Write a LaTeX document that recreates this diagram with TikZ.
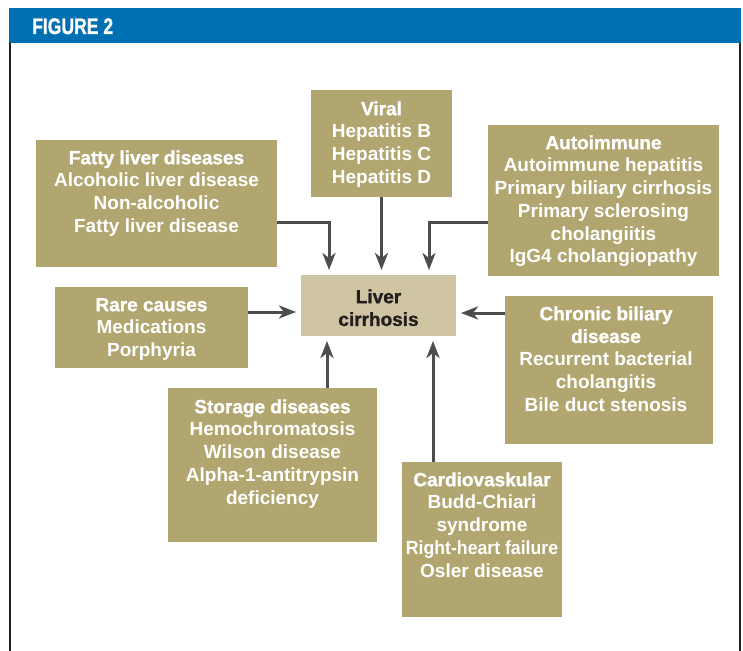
\documentclass[tikz,border=0pt]{standalone}
\usepackage{fontspec}
\usepackage{graphicx}
\usetikzlibrary{arrows.meta}
\newfontfamily\bodyf{Liberation Sans Bold}
\newfontfamily\heavyf[FakeBold=1.3]{Liberation Sans Bold}
\definecolor{boxc}{HTML}{B1A66F}
\definecolor{cirrc}{HTML}{CFC5A2}
\definecolor{arrc}{HTML}{4D4D4F}
\definecolor{headc}{HTML}{0070B3}
\definecolor{framec}{HTML}{231F20}
\tikzset{
  box/.style={fill=boxc, draw=none, inner sep=0pt, outer sep=0pt, anchor=north west},
  txt/.style={text=white, align=center, anchor=north, inner sep=0pt, font=\bodyf\fontsize{19}{22.7}\selectfont},
  arr/.style={draw=arrc, line width=3pt, shorten >=5pt, -{Stealth[length=17pt,width=13pt,inset=5pt]}},
  framel/.style={draw=framec, line width=2pt},
}
\newcommand{\ttl}[1]{\rule{0pt}{14pt}{\heavyf #1}}
\begin{document}
\begin{tikzpicture}[x=1pt,y=-1pt]
\useasboundingbox (0,0) rectangle (743,650);
\fill[white] (0,0) rectangle (743,650);
% frame
\node[fill=headc, inner sep=0pt, minimum width=732pt, minimum height=35pt, anchor=north west] (header) at (9,8) {};
\node[anchor=base west, inner sep=0pt, text=white, font=\heavyf\fontsize{22.5}{22.5}\selectfont] (figlabel) at (32,34) {\scalebox{0.78}[1]{FIGURE 2}};
\draw[framel] (header.south west) ++(1,0) -- ++(0,610);
\draw[framel] (header.south east) ++(-1,0) -- ++(0,610);
% boxes
\node[box, minimum width=241pt, minimum height=127pt] (fatty) at (36,140) {};
\node[box, minimum width=141pt, minimum height=107pt] (viral) at (311,90) {};
\node[box, minimum width=231pt, minimum height=151pt] (auto) at (488,125) {};
\node[box, minimum width=193pt, minimum height=81pt] (rare) at (55,287) {};
\node[box, fill=cirrc, minimum width=155pt, minimum height=61pt] (cirr) at (301,275) {};
\node[box, minimum width=208pt, minimum height=148pt] (chron) at (505,296) {};
\node[box, minimum width=209pt, minimum height=154pt] (stor) at (168,388) {};
\node[box, minimum width=160pt, minimum height=155pt] (card) at (402,462) {};
% texts
\node[txt] (fattyt) at ([yshift=-10pt]fatty.north) {\ttl{Fatty liver diseases}\\Alcoholic liver disease\\Non-alcoholic\\Fatty liver disease};
\node[txt] (viralt) at ([yshift=-11pt]viral.north) {\ttl{Viral}\\Hepatitis B\\Hepatitis C\\Hepatitis D};
\node[txt] (autot) at ([yshift=-10pt]auto.north) {\ttl{Autoimmune}\\Autoimmune hepatitis\\Primary biliary cirrhosis\\Primary sclerosing\\cholangiitis\\IgG4 cholangiopathy};
\node[txt] (raret) at ([yshift=-10pt]rare.north) {\ttl{Rare causes}\\Medications\\Porphyria};
\node[txt, text=framec] (cirrt) at ([yshift=-14pt]cirr.north) {\ttl{Liver}\\{\heavyf cirrhosis}};
\node[txt] (chront) at ([xshift=-3pt,yshift=-10pt]chron.north) {\ttl{Chronic biliary}\\{\heavyf disease}\\Recurrent bacterial\\cholangitis\\Bile duct stenosis};
\node[txt] (stort) at ([yshift=-11pt]stor.north) {\ttl{Storage diseases}\\Hemochromatosis\\Wilson disease\\Alpha-1-antitrypsin\\deficiency};
\node[txt] (cardt) at ([yshift=-10pt]card.north) {\ttl{Cardiovaskular}\\Budd-Chiari\\syndrome\\\scalebox{0.93}[1]{Right-heart failure}\\Osler disease};
% arrows
\draw[arr] (fatty.east |- 0,222) -| (cirr.north -| 329,0);
\draw[arr] (viral.south) -- (viral.south |- cirr.north);
\draw[arr] (auto.west |- 0,222) -| (cirr.north -| 429,0);
\draw[arr] (rare.east |- 0,312) -- (cirr.west |- 0,312);
\draw[arr] (chron.west |- 0,313) -- (cirr.east |- 0,313);
\draw[arr] (stor.north -| 327,0) -- (cirr.south -| 327,0);
\draw[arr] (card.north -| 433,0) -- (cirr.south -| 433,0);
\end{tikzpicture}
\end{document}
